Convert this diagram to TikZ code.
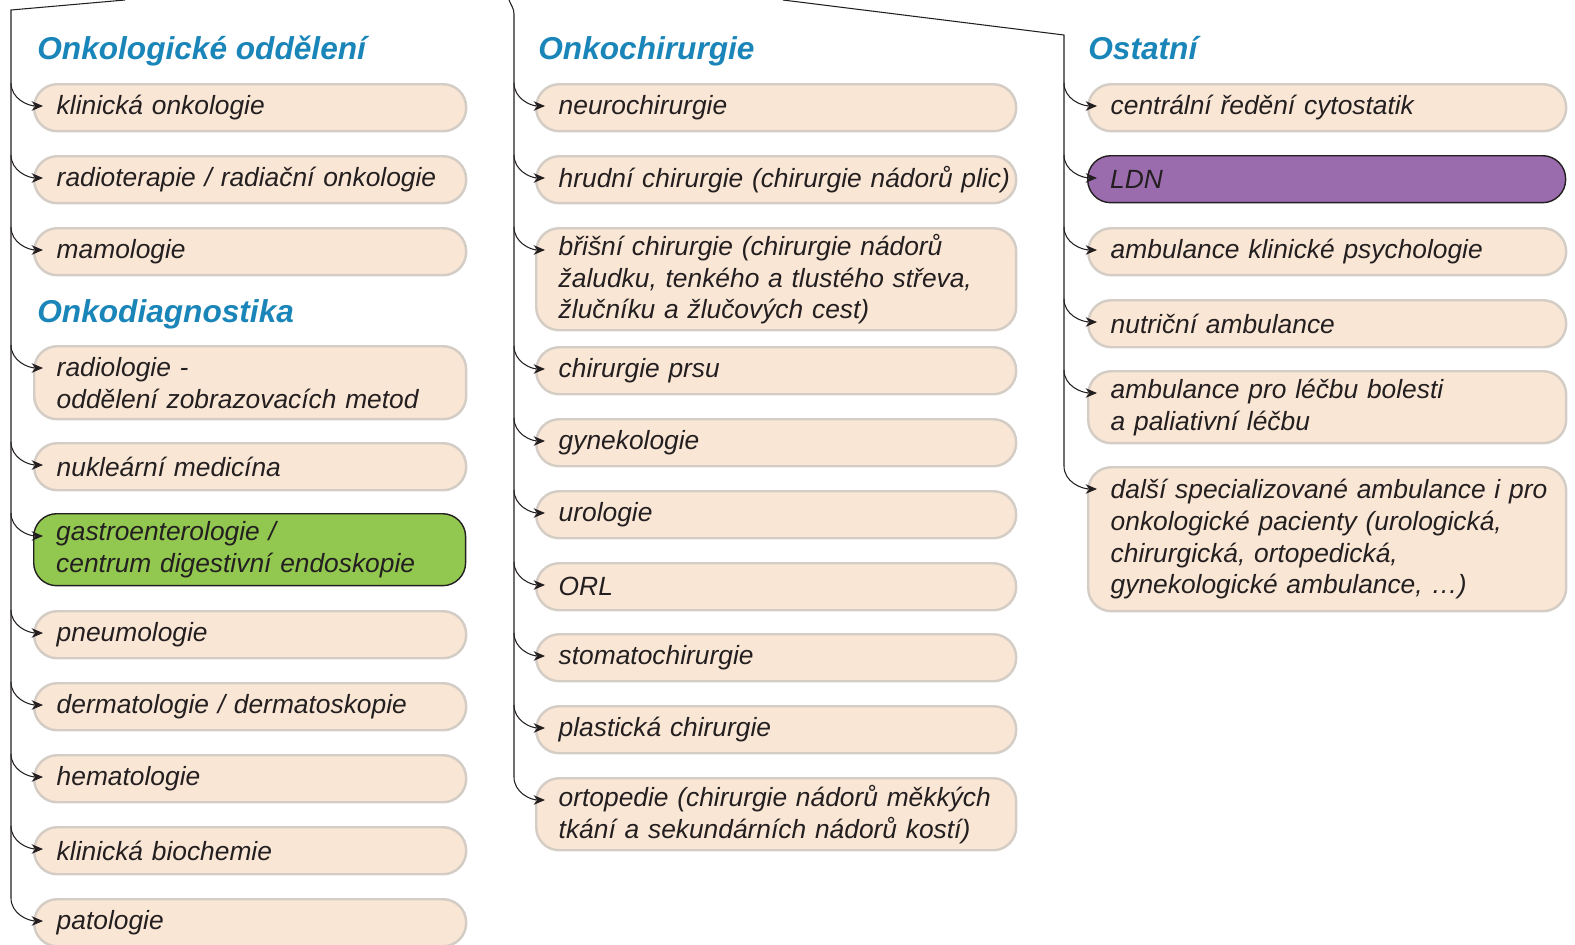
\documentclass[tikz,border=0pt]{standalone}
\usepackage{fontspec}
\setmainfont{Liberation Sans}
\usepackage{tikz}
\usetikzlibrary{arrows.meta,calc}
\definecolor{onkblue}{RGB}{26,133,184}
\definecolor{onkpeach}{RGB}{250,230,213}
\definecolor{onkedge}{RGB}{212,205,198}
\definecolor{onkgreen}{RGB}{146,200,80}
\definecolor{onkpurple}{RGB}{155,108,173}
\definecolor{onktext}{RGB}{35,31,32}
\tikzstyle{dept} = [draw=onkedge, line width=1.4pt, fill=onkpeach, rounded corners=0.46cm, anchor=north west, align=left, inner xsep=0pt, minimum height=0.94cm, text=onktext, font=\fontsize{15}{18.1}\selectfont\itshape, execute at begin node={\leftskip=0.45cm\relax}]
\tikzstyle{deptL} = [dept, text width=8.64cm]
\tikzstyle{deptM} = [dept, text width=9.6cm]
\tikzstyle{deptR} = [dept, text width=9.56cm]
\tikzstyle{head} = [anchor=base west, inner sep=0pt, text=onkblue, font=\fontsize{18}{21}\selectfont\bfseries\itshape]
\tikzstyle{trunk} = [line width=0.6pt, color=onktext]
\tikzstyle{link} = [line width=0.6pt, color=onktext, -{Stealth[length=6.5pt,width=5.5pt]}]

\begin{document}
\begin{tikzpicture}[x=0.02cm, y=-0.02cm]
\useasboundingbox (0,0) rectangle (1575,944);

% Headings
\node[head] (hOnk) at (37,59) {Onkologické oddělení};
\node[head] (hDiag) at (37,322) {Onkodiagnostika};
\node[head] (hChir) at (538,59) {Onkochirurgie};
\node[head] (hOst) at (1088,59) {Ostatní};

% Left column
\node[deptL] (klin) at (33,83) {klinická onkologie};
\node[deptL] (radter) at (33,155) {radioterapie / radiační onkologie};
\node[deptL] (mamo) at (33,227) {mamologie};
\node[deptL, minimum height=1.46cm] (radio) at (33,345) {radiologie -\\oddělení zobrazovacích metod};
\node[deptL] (nukl) at (33,442) {nukleární medicína};
\node[deptL, fill=onkgreen, draw=onktext, line width=0.8pt, minimum height=1.44cm] (gastro) at (33,513) {gastroenterologie /\\centrum digestivní endoskopie};
\node[deptL] (pneu) at (33,610) {pneumologie};
\node[deptL] (derm) at (33,682) {dermatologie / dermatoskopie};
\node[deptL] (hema) at (33,754) {hematologie};
\node[deptL] (bioch) at (33,826) {klinická biochemie};
\node[deptL] (pato) at (33,898) {patologie};

% Middle column
\node[deptM] (neuro) at (535,83) {neurochirurgie};
\node[deptM] (hrud) at (535,155) {hrudní chirurgie (chirurgie nádorů plic)};
\node[deptM, minimum height=1.92cm] (bris) at (535,227) {břišní chirurgie (chirurgie nádorů\\žaludku, tenkého a tlustého střeva,\\žlučníku a žlučových cest)};
\node[deptM] (prsu) at (535,346) {chirurgie prsu};
\node[deptM] (gyn) at (535,418) {gynekologie};
\node[deptM] (uro) at (535,490) {urologie};
\node[deptM] (orl) at (535,562) {ORL};
\node[deptM] (stoma) at (535,633) {stomatochirurgie};
\node[deptM] (plast) at (535,705) {plastická chirurgie};
\node[deptM, minimum height=1.44cm] (orto) at (535,777) {ortopedie (chirurgie nádorů měkkých\\tkání a sekundárních nádorů kostí)};

% Right column
\node[deptR] (centr) at (1087,83) {centrální ředění cytostatik};
\node[deptR, fill=onkpurple, draw=onktext, line width=0.8pt] (ldn) at (1087,155) {LDN};
\node[deptR] (psych) at (1087,227) {ambulance klinické psychologie};
\node[deptR] (nutri) at (1087,299) {nutriční ambulance};
\node[deptR, minimum height=1.44cm] (bolest) at (1087,370) {ambulance pro léčbu bolesti\\a paliativní léčbu};
\node[deptR, minimum height=2.88cm] (dalsi) at (1087,466) {další specializované ambulance i pro\\onkologické pacienty (urologická,\\chirurgická, ortopedická,\\gynekologické ambulance, …)};

% Trunks
\coordinate (topL) at (125,0);
\coordinate (trunkL) at (11,10);
\coordinate (topM) at (509,0);
\coordinate (trunkM) at (514,14);
\coordinate (topR) at (783,0);
\coordinate (trunkR) at (1064,35);
\draw[trunk] (topL) -- (trunkL) -- (trunkL |- pato.north);
\draw[trunk] (topM) to[out=-70,in=90] (trunkM) -- (trunkM |- orto.north);
\draw[trunk] (topR) -- (trunkR) -- (trunkR |- dalsi.north);

% Connections
\foreach \n in {klin,radter,mamo,radio,nukl,gastro,pneu,derm,hema,bioch,pato}
  \draw[link] (trunkL |- \n.north) to[out=-90,in=180] ($(\n.north west)+(10,23)$);
\foreach \n in {neuro,hrud,bris,prsu,gyn,uro,orl,stoma,plast,orto}
  \draw[link] (trunkM |- \n.north) to[out=-90,in=180] ($(\n.north west)+(10,23)$);
\foreach \n in {centr,ldn,psych,nutri,bolest,dalsi}
  \draw[link] (trunkR |- \n.north) to[out=-90,in=180] ($(\n.north west)+(10,23)$);
\end{tikzpicture}
\end{document}
